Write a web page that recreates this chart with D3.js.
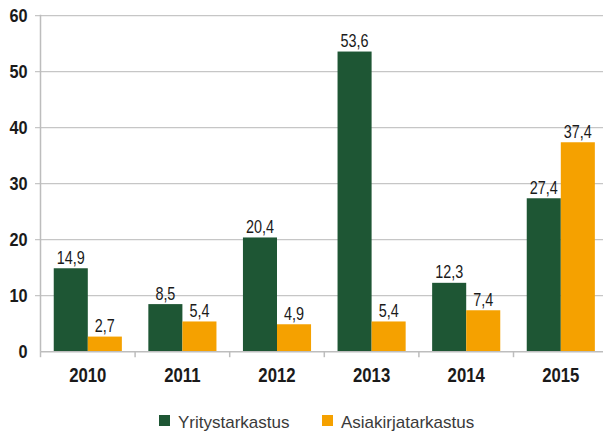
<!DOCTYPE html>
<html>
<head>
<meta charset="utf-8">
<script src="https://cdn.jsdelivr.net/npm/d3@7"></script>
<style>
  html, body { margin: 0; padding: 0; background: #fff; }
  svg { display: block; }
</style>
</head>
<body>
<svg id="chart" width="603" height="432"></svg>
<script>
// Inspection counts per year
const years = ["2010", "2011", "2012", "2013", "2014", "2015"];
const seriesNames = ["Yritystarkastus", "Asiakirjatarkastus"];
const yritystarkastus = [14.9, 8.5, 20.4, 53.6, 12.3, 27.4];
const asiakirjatarkastus = [2.7, 5.4, 4.9, 5.4, 7.4, 37.4];
const yTicks = [0, 10, 20, 30, 40, 50, 60];
const colors = ["#1e5634", "#f5a100"];

const seriesValues = [yritystarkastus, asiakirjatarkastus];
const fmt = v => d3.format(".1f")(v).replace(".", ",");

const svg = d3.select("#chart");
const W = 603;
const plotLeft = 40.5, plotTop = 15.7, plotBottom = 351.7;
const step = 94.6;

const x = d3.scaleBand()
  .domain(years)
  .range([plotLeft, plotLeft + step * years.length])
  .paddingInner(0.28)
  .paddingOuter(0.14);

const xs = d3.scaleBand()
  .domain(seriesNames)
  .range([0, x.bandwidth()]);

const y = d3.scaleLinear().domain([0, 60]).range([plotBottom, plotTop]);

const sans = "'Liberation Sans', Arial, sans-serif";

// Condensed-looking text: a horizontally squeezed label anchored at (px, py)
function condensedText(sel, opts) {
  const g = sel.append("g")
    .attr("transform", d => `translate(${opts.x(d)},${opts.y(d)})`);
  g.append("text")
    .attr("transform", `scale(${opts.sx},1)`)
    .attr("text-anchor", opts.anchor)
    .attr("dy", opts.dy || 0)
    .attr("font-family", sans)
    .attr("font-weight", opts.weight || "normal")
    .attr("font-size", opts.size)
    .attr("fill", "#1a1a1a")
    .text(opts.text);
  return g;
}

// Horizontal gridlines with outward tick stubs
svg.append("g").selectAll("line")
  .data(yTicks.filter(t => t > 0))
  .join("line")
  .attr("x1", plotLeft - 5.5).attr("x2", W)
  .attr("y1", d => y(d)).attr("y2", d => y(d))
  .attr("stroke", "#c6c6c6").attr("stroke-width", 1.2);

// Y tick labels
svg.append("g").selectAll("g")
  .data(yTicks)
  .join(enter => {
    const e = enter.append("g");
    condensedText(e, {
      x: () => 27.5, y: d => y(d), dy: "0.36em", anchor: "end",
      sx: 0.88, size: 18.5, weight: "bold", text: d => d
    });
    return e;
  });

// Bars
const groups = svg.append("g").selectAll("g")
  .data(years)
  .join("g")
  .attr("transform", d => `translate(${x(d)},0)`);

const cells = (d, i) => seriesNames.map((s, k) => ({ s, k, v: seriesValues[k][i] }));

groups.selectAll("rect")
  .data(cells)
  .join("rect")
  .attr("x", d => xs(d.s))
  .attr("width", xs.bandwidth())
  .attr("y", d => y(d.v))
  .attr("height", d => y(0) - y(d.v))
  .attr("fill", d => colors[d.k]);

// Value labels
groups.selectAll("g.val")
  .data(cells)
  .join(enter => {
    const e = enter.append("g").attr("class", "val");
    condensedText(e, {
      x: d => xs(d.s) + xs.bandwidth() / 2, y: d => y(d.v) - 4.5,
      anchor: "middle", sx: 0.8, size: 18, text: d => fmt(d.v)
    });
    return e;
  });

// Axes lines
svg.append("line")
  .attr("x1", plotLeft).attr("x2", plotLeft)
  .attr("y1", plotTop - 1).attr("y2", plotBottom)
  .attr("stroke", "#bdbdbd").attr("stroke-width", 1.5);
svg.append("line")
  .attr("x1", plotLeft).attr("x2", W)
  .attr("y1", plotBottom).attr("y2", plotBottom)
  .attr("stroke", "#bdbdbd").attr("stroke-width", 1.5);

// Category boundary ticks on the x axis
const boundaries = years.map(c => x(c) - (x.step() - x.bandwidth()) / 2);
svg.append("g").selectAll("line")
  .data(boundaries)
  .join("line")
  .attr("x1", d => d).attr("x2", d => d)
  .attr("y1", plotBottom).attr("y2", plotBottom + 5.5)
  .attr("stroke", "#bdbdbd").attr("stroke-width", 1.5);

// X labels
svg.append("g").selectAll("g")
  .data(years)
  .join(enter => {
    const e = enter.append("g");
    condensedText(e, {
      x: d => x(d) + x.bandwidth() / 2, y: () => 382,
      anchor: "middle", sx: 0.86, size: 19.5, weight: "bold", text: d => d
    });
    return e;
  });

// Legend
const legendItems = [
  { name: seriesNames[0], color: colors[0], x: 159 },
  { name: seriesNames[1], color: colors[1], x: 322 }
];
const lg = svg.append("g").selectAll("g")
  .data(legendItems)
  .join("g")
  .attr("transform", d => `translate(${d.x},0)`);
lg.append("rect")
  .attr("x", 0).attr("y", 415)
  .attr("width", 11).attr("height", 11)
  .attr("fill", d => d.color);
lg.append("text")
  .attr("x", 19).attr("y", 427.5)
  .attr("font-family", sans)
  .attr("font-size", 17)
  .attr("fill", "#3a3a3a")
  .text(d => d.name);
</script>
</body>
</html>
